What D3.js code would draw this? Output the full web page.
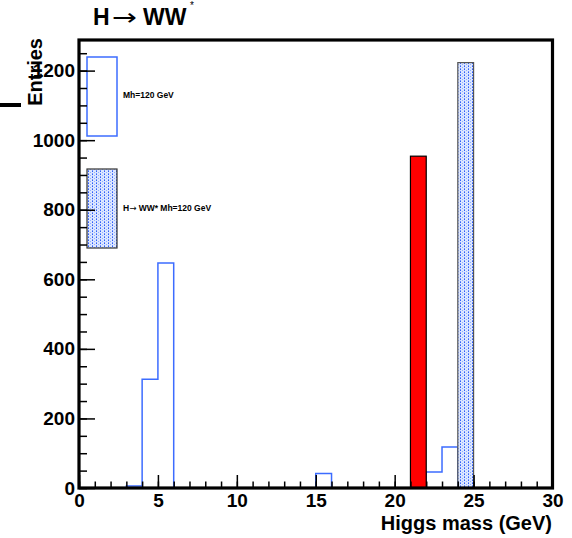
<!DOCTYPE html>
<html>
<head>
<meta charset="utf-8">
<script src="https://cdn.jsdelivr.net/npm/d3@7"></script>
<style>
  html, body { margin: 0; padding: 0; background: #fff; }
  svg { display: block; font-family: "Liberation Sans", Arial, Helvetica, sans-serif; }
</style>
</head>
<body>
<div id="chart"></div>
<script>
// bins are 1 GeV wide, keyed by lower edge
const blueBins = [3, 4, 5, 15, 22, 23];
const blueCounts = [6, 313, 647, 42, 46, 118];
const redBins = [21];
const redCounts = [954];
const dotBins = [24];
const dotCounts = [1223];

const xMajorTicks = [0, 5, 10, 15, 20, 25, 30];
const yMajorTicks = [0, 200, 400, 600, 800, 1000, 1200];

const legendLabels = ["Mh=120 GeV", "H\u2192 WW* Mh=120 GeV"];

(function () {
  "use strict";

  const W = 572, H = 538;
  const BLUE = "#3c6cff";
  const ARROW_FONT = "DejaVu Sans";

  const svg = d3.select("#chart").append("svg")
    .attr("width", W).attr("height", H)
    .attr("viewBox", `0 0 ${W} ${H}`);

  const defs = svg.append("defs");
  const pat = defs.append("pattern")
    .attr("id", "dots")
    .attr("patternUnits", "userSpaceOnUse")
    .attr("width", 4).attr("height", 3);
  pat.append("rect").attr("width", 4).attr("height", 3).attr("fill", "#dce6ff");
  pat.append("rect").attr("x", 0).attr("y", 0).attr("width", 1).attr("height", 1).attr("fill", "#2f5ff5");
  pat.append("rect").attr("x", 2).attr("y", 1).attr("width", 1).attr("height", 1).attr("fill", "#93b0ff");
  pat.append("rect").attr("x", 0).attr("y", 2).attr("width", 1).attr("height", 1).attr("fill", "#6e90ff");

  const x = d3.scaleLinear().domain([0, 30]).range([79, 552.5]);
  const y = d3.scaleLinear().domain([0, 1288]).range([488, 40]);

  // blue outline histogram as a step path over every bin
  const full = d3.range(30).map((b) => {
    const i = blueBins.indexOf(b);
    return i < 0 ? 0 : blueCounts[i];
  });
  const pts = [[0, 0]];
  full.forEach((v, b) => { pts.push([b, v]); pts.push([b + 1, v]); });
  pts.push([30, 0]);
  svg.append("path")
    .attr("d", d3.line().x((d) => x(d[0])).y((d) => y(d[1]))(pts))
    .attr("fill", "none")
    .attr("stroke", BLUE)
    .attr("stroke-width", 1.5);

  svg.selectAll("rect.red").data(redBins).join("rect")
    .attr("class", "red")
    .attr("x", (d) => x(d))
    .attr("width", (d) => x(d + 1) - x(d))
    .attr("y", (d, i) => y(redCounts[i]))
    .attr("height", (d, i) => y(0) - y(redCounts[i]))
    .attr("fill", "#ff0000")
    .attr("stroke", "#000")
    .attr("stroke-width", 1.2);

  svg.selectAll("rect.dot").data(dotBins).join("rect")
    .attr("class", "dot")
    .attr("x", (d) => x(d))
    .attr("width", (d) => x(d + 1) - x(d))
    .attr("y", (d, i) => y(dotCounts[i]))
    .attr("height", (d, i) => y(0) - y(dotCounts[i]))
    .attr("fill", "url(#dots)")
    .attr("stroke", "#555")
    .attr("stroke-width", 1.2);

  // legend: tall boxes in the upper left, as in the original
  svg.append("rect")
    .attr("x", 87).attr("y", 57).attr("width", 30).attr("height", 79)
    .attr("fill", "none").attr("stroke", BLUE).attr("stroke-width", 1.5);
  svg.append("rect")
    .attr("x", 87).attr("y", 169).attr("width", 30).attr("height", 79)
    .attr("fill", "url(#dots)").attr("stroke", "#333").attr("stroke-width", 1.2);
  svg.append("text").attr("x", 123).attr("y", 98)
    .attr("font-size", 8.5).attr("font-weight", "bold").text(legendLabels[0]);
  // the arrow glyph comes from DejaVu, Liberation's is tiny
  const leg2 = svg.append("text").attr("x", 123).attr("y", 210.5)
    .attr("font-size", 8.5).attr("font-weight", "bold");
  const parts = legendLabels[1].split("\u2192");
  leg2.append("tspan").text(parts[0]);
  leg2.append("tspan").attr("font-family", ARROW_FONT).attr("font-weight", "normal").text("\u2192");
  leg2.append("tspan").text(parts[1]);

  // axes: ticks point inwards, minor ticks drawn as their own axis
  const styleAxis = (sel) => {
    sel.select(".domain").remove();
    sel.selectAll("line").attr("stroke", "#000").attr("stroke-width", 1.5);
    sel.selectAll("text").attr("font-size", 19).attr("font-weight", "bold")
      .attr("fill", "#000").attr("font-family", null);
  };

  svg.append("g").attr("transform", "translate(0,488)")
    .call(d3.axisBottom(x).tickValues(d3.range(0, 31, 1)).tickSize(-6.5).tickFormat(""))
    .call(styleAxis);
  svg.append("g").attr("transform", "translate(0,488)")
    .call(d3.axisBottom(x).tickValues(xMajorTicks).tickSize(-13).tickPadding(6).tickFormat(d3.format("d")))
    .call(styleAxis);

  svg.append("g").attr("transform", "translate(79,0)")
    .call(d3.axisLeft(y).tickValues(d3.range(0, 1251, 50)).tickSize(-8).tickFormat(""))
    .call(styleAxis);
  svg.append("g").attr("transform", "translate(79,0)")
    .call(d3.axisLeft(y).tickValues(yMajorTicks).tickSize(-16).tickPadding(4).tickFormat(d3.format("d")))
    .call(styleAxis);

  // frame
  svg.append("rect")
    .attr("x", x(0)).attr("y", y(1288))
    .attr("width", x(30) - x(0)).attr("height", y(0) - y(1288))
    .attr("fill", "none").attr("stroke", "#000").attr("stroke-width", 3.2);

  // titles
  svg.append("text").attr("x", 552).attr("y", 530)
    .attr("text-anchor", "end").attr("font-size", 20).attr("font-weight", "bold")
    .text("Higgs mass (GeV)");

  svg.append("text")
    .attr("transform", "translate(41.5,38) rotate(-90)")
    .attr("text-anchor", "end").attr("font-size", 20).attr("font-weight", "bold")
    .text("Entries");

  svg.append("line")
    .attr("x1", 0).attr("x2", 21).attr("y1", 105).attr("y2", 105)
    .attr("stroke", "#000").attr("stroke-width", 4);

  const title = svg.append("g").attr("font-size", 23);
  title.append("text").attr("x", 93).attr("y", 25).attr("font-weight", "bold").text("H");
  title.append("text").attr("x", 112).attr("y", 25)
    .attr("font-family", ARROW_FONT)
    .attr("textLength", 25).attr("lengthAdjust", "spacingAndGlyphs")
    .text("\u2192");
  title.append("text").attr("x", 143).attr("y", 25).attr("font-weight", "bold").text("WW");
  title.append("text").attr("x", 190).attr("y", 9).attr("font-size", 10).text("*");
})();
</script>
</body>
</html>
